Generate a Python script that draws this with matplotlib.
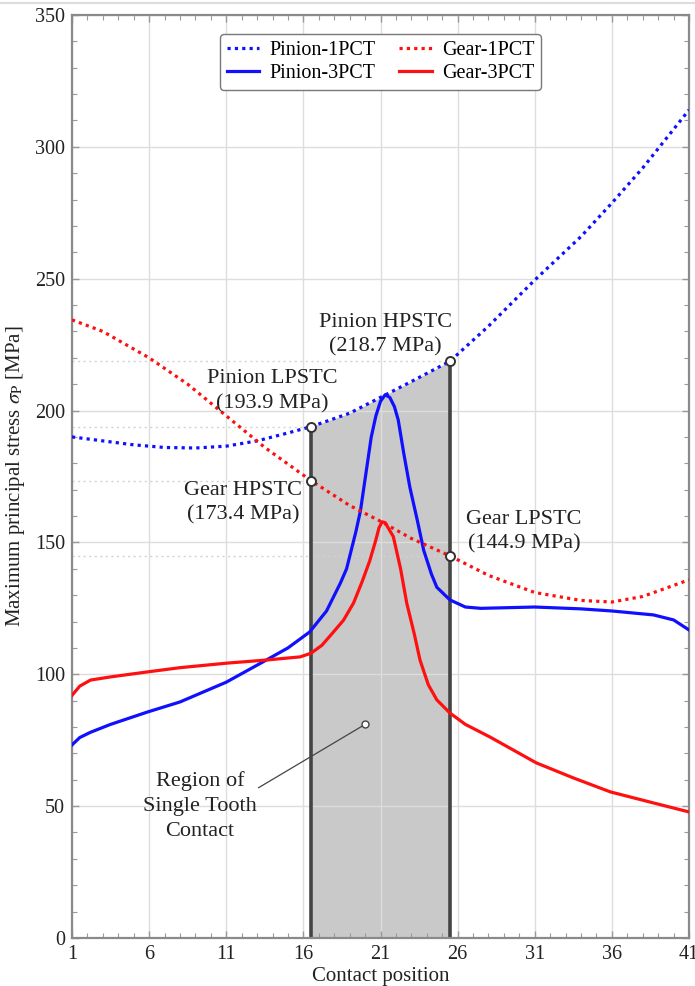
import matplotlib
matplotlib.use("Agg")
import matplotlib.pyplot as plt
from matplotlib.lines import Line2D
from matplotlib.ticker import MultipleLocator, FixedLocator
import numpy as np

plt.rcParams['font.family'] = ['Liberation Serif', 'DejaVu Serif']
plt.rcParams['mathtext.fontset'] = 'stix'

# ---- data ----
p1_x = [1, 3, 5, 7, 9, 11, 13, 15, 16.5, 19, 21, 23, 25.5, 28, 31, 34, 36, 38, 41]
p1_y = [190, 188.5, 187, 186, 185.8, 186.5, 188.5, 191.5, 193.9, 199, 205, 211, 218.7,
        232, 249.5, 266, 278.7, 292, 314]

g1_x = [1, 3, 6, 8.5, 11, 13.5, 16.5, 19, 21, 23, 25.5, 28, 31, 34, 36, 38, 41]
g1_y = [234.4, 230, 220, 210, 198, 186, 173.4, 164, 158, 151.5, 144.9, 137.5, 131,
        128, 127.4, 129.5, 135.8]

p3_x = [1, 1.5, 2.2, 3.5, 5.9, 8, 11, 13.6, 15, 16.4, 17.5, 18.4, 18.8, 19.1, 19.4,
        19.7, 20.05, 20.4, 20.7, 21.0, 21.3, 21.6, 21.9, 22.15, 22.5, 22.9, 23.4, 23.8,
        24.3, 24.65, 25.5, 26.5, 27.5, 31, 34, 36, 38.7, 40, 41]
p3_y = [73.2, 76, 78, 81, 85.7, 89.5, 97, 105.4, 110, 116, 124, 134.6, 140, 147, 154,
        162, 176, 190, 198, 203.5, 206, 205, 201.5, 196.4, 184, 171, 158, 147, 138, 133,
        128.2, 125.5, 125, 125.5, 124.8, 124, 122.5, 120.6, 116.8]

g3_x = [1, 1.5, 2.2, 3.5, 5.9, 8, 11, 13.6, 15.8, 16.5, 17.2, 17.9, 18.6, 19.25, 19.8,
        20.3, 20.7, 20.9, 21.1, 21.3, 21.5, 21.83, 22.3, 22.7, 23.2, 23.56, 24.1, 24.65,
        25.5, 26.5, 28.1, 31.1, 33.5, 35.9, 38.7, 41]
g3_y = [92, 95.5, 97.8, 99, 100.9, 102.5, 104.2, 105.4, 106.6, 108, 111, 115.7, 120.5,
        127, 135, 143, 151, 155.5, 157.8, 157.5, 155.5, 152.2, 140, 127, 115, 105.4, 96,
        90.3, 85.3, 81, 76.2, 66.4, 60.7, 55.4, 51.2, 47.8]

series_labels = ['Pinion-1PCT', 'Pinion-3PCT', 'Gear-1PCT', 'Gear-3PCT']

stc_x = [16.5, 16.5, 25.5, 25.5]
stc_y = [193.9, 173.4, 218.7, 144.9]
stc_names = ['Pinion LPSTC', 'Gear HPSTC', 'Pinion HPSTC', 'Gear LPSTC']
stc_text_pos = [(13.97, 207.4), (12.09, 165.0), (21.3, 228.7), (30.3, 154.0)]

region_pt = (20.0, 81.0)
region_text_pos = (9.3, 50.0)
region_line_end = (13.1, 57.0)

x_ticks = [1, 6, 11, 16, 21, 26, 31, 36, 41]
y_ticks = [0, 50, 100, 150, 200, 250, 300, 350]

# ---- figure ----
fig = plt.figure(figsize=(6.95, 9.86), dpi=100)
ax = fig.add_axes([0.1036, 0.0487, 0.8878, 0.9361])

blue = '#1010ff'
red = '#ff1010'

p1x = np.array(p1_x); p1y = np.array(p1_y)
mask = (p1x >= stc_x[0]) & (p1x <= stc_x[2])
ax.fill_between(p1x, 0, p1y, where=mask, color='#c9c9c9', zorder=0.3, linewidth=0)

# faint reference lines
for xv, yv in zip(stc_x, stc_y):
    ax.plot([1, xv], [yv, yv], color='#d2d2d2', lw=1.0, ls=(0, (1.5, 2.5)), zorder=0.6)

l1, = ax.plot(p1_x, p1_y, color=blue, lw=2.3, ls=(0, (1, 1.3)), zorder=3)
l3, = ax.plot(p3_x, p3_y, color=blue, lw=2.3, zorder=3, solid_joinstyle='round')
l2, = ax.plot(g1_x, g1_y, color=red, lw=2.3, ls=(0, (1, 1.3)), zorder=3)
l4, = ax.plot(g3_x, g3_y, color=red, lw=2.3, zorder=3, solid_joinstyle='round')

# vertical boundaries
ax.plot([stc_x[0], stc_x[0]], [0, stc_y[0]], color='#444444', lw=2.6, zorder=2.5)
ax.plot([stc_x[2], stc_x[2]], [0, stc_y[2]], color='#444444', lw=2.6, zorder=2.5)

ax.plot(stc_x, stc_y, ls='none', marker='o', ms=6.5, mfc='white', mec='#333333',
        mew=1.4, zorder=5)

for (tx, ty), name, val in zip(stc_text_pos, stc_names, stc_y):
    ax.text(tx, ty, f'{name}\n({val} MPa)', ha='center', va='center', fontsize=16,
            color='#222222', linespacing=1.4, zorder=6)

ax.plot([region_line_end[0], region_pt[0]], [region_line_end[1], region_pt[1]],
        color='#444444', lw=0.9, zorder=4)
ax.plot([region_pt[0]], [region_pt[1]], marker='o', ms=5, mfc='white', mec='#444444',
        mew=1.0, zorder=5)
ax.text(region_text_pos[0], region_text_pos[1], 'Region of\nSingle Tooth\nContact',
        ha='center', va='center', fontsize=16, color='#222222', linespacing=1.4)

ax.set_xlim(1, 41)
ax.set_ylim(0, 350)
ax.xaxis.set_major_locator(FixedLocator(x_ticks))
ax.yaxis.set_major_locator(FixedLocator(y_ticks))
ax.xaxis.set_minor_locator(MultipleLocator(1))
ax.yaxis.set_minor_locator(MultipleLocator(10))
ax.tick_params(which='both', direction='in', top=True, right=True, color='#999999',
               labelsize=14.5, labelcolor='#222222')
ax.tick_params(which='major', length=5, width=1.0, pad=5)
ax.tick_params(which='minor', length=3.5, width=0.8)
ax.set_axisbelow(True)
ax.grid(which='major', color='#dddddd', lw=1.0)
for s in ax.spines.values():
    s.set_color('#8a8a8a')
    s.set_linewidth(1.6)

ax.set_xlabel('Contact position', fontsize=15, color='#222222', labelpad=2)
ax.set_ylabel(r'Maximum principal stress $\sigma_\mathrm{P}$ [MPa]', fontsize=15,
              color='#222222', labelpad=6)

leg = ax.legend([l1, l3, l2, l4], series_labels, ncol=2, loc='upper center',
                bbox_to_anchor=(0.5, 0.99), fontsize=14.5, frameon=True, fancybox=True,
                handlelength=1.6, columnspacing=1.2, handletextpad=0.5,
                labelspacing=0.15, borderpad=0.35)
leg.get_frame().set_edgecolor('#777777')
leg.get_frame().set_linewidth(1.0)
leg.get_frame().set_alpha(1)

fig.add_artist(Line2D([0, 1], [0.997, 0.997], transform=fig.transFigure,
                      color='#dddddd', lw=1.5))

fig.savefig('out.png', dpi=100)
